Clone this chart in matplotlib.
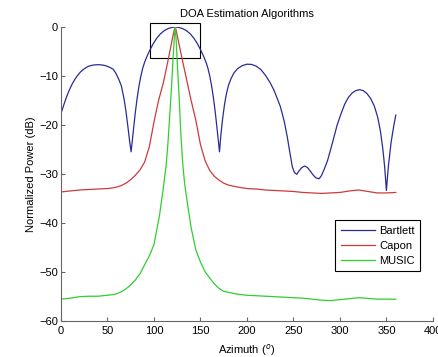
import matplotlib
matplotlib.use('Agg')
import matplotlib.pyplot as plt
from matplotlib.patches import Rectangle

plt.rcParams['font.family'] = ['Liberation Sans', 'DejaVu Sans']
plt.rcParams['font.size'] = 8

# Bartlett spectrum (dB) vs azimuth (deg)
bart_az = [0, 3, 6, 9, 12, 15, 18, 21, 24, 27, 30, 33, 36, 40, 44, 48, 52, 56, 59, 62, 65, 68,
           70, 72, 74, 75.5,
           78, 80, 82, 84, 86, 88, 90, 93, 96, 99, 103, 107, 111, 115, 119, 123,
           127, 131, 135, 139, 143, 147, 150, 153, 156, 158, 160, 162, 164, 166, 168, 170.5,
           172, 174, 176, 178, 180, 183, 186, 190, 195, 200, 205, 210, 215, 220, 225, 229, 233,
           236, 240, 243.4, 246, 248.8, 251, 253.5, 256, 259, 262, 265, 268, 271, 274, 277.6,
           280, 283, 286.6, 290, 293.8, 297, 301, 305, 309, 313, 317, 321, 325, 329, 333, 337,
           340.5, 343.5, 346, 348, 349.9, 352, 355, 358, 360]
bart_db = [-17.7, -16.0, -14.3, -12.9, -11.7, -10.7, -9.9, -9.2, -8.7, -8.3, -8.0, -7.85, -7.75,
           -7.7, -7.75, -7.9, -8.2, -8.6, -9.4, -10.6, -12.0, -14.8, -17.3, -20.3, -23.5, -25.5,
           -21.0, -17.5, -14.5, -12.0, -10.0, -8.4, -7.2, -5.8, -4.6, -3.5, -2.3, -1.4, -0.75,
           -0.35, -0.1, 0.0,
           -0.1, -0.35, -0.75, -1.4, -2.3, -3.5, -4.6, -5.8, -7.2, -8.4, -10.0, -12.0, -14.5,
           -17.5, -21.0, -25.5,
           -22.0, -18.5, -15.7, -13.6, -12.0, -10.5, -9.4, -8.5, -7.9, -7.6, -7.65, -8.0, -8.7,
           -9.9, -11.4, -12.9, -14.8, -16.3, -19.2, -22.5, -25.5, -28.6, -29.7, -30.1, -29.4,
           -28.7, -28.4, -28.7, -29.4, -30.2, -30.8, -31.0, -30.4, -29.1, -27.3, -25.0, -22.3,
           -20.0, -17.8, -15.8, -14.4, -13.5, -13.0, -12.8, -13.0, -13.6, -14.6, -16.2, -18.4,
           -21.3, -24.8, -28.5, -33.4, -28.5, -23.5, -20.0, -18.0]

# Capon spectrum
capon_az = [0, 10, 20, 30, 40, 50, 55, 60, 65, 70, 75, 80, 85, 90, 95, 100, 105, 110, 115,
            118, 120, 122, 123, 124, 126, 128, 132, 136, 140, 145, 150, 155, 160, 165, 170,
            175, 180, 190, 200, 210, 220, 230, 240, 250, 260, 270, 280, 290, 300, 310, 320,
            330, 340, 350, 360]
capon_db = [-33.7, -33.5, -33.3, -33.2, -33.1, -33.0, -32.9, -32.7, -32.4, -31.9, -31.2, -30.3,
            -29.2, -27.6, -24.5, -19.5, -15.0, -11.5, -7.0, -4.2, -2.2, -0.5, 0.0, -0.8, -2.6,
            -4.4, -8.0, -11.5, -15.0, -19.0, -24.0, -27.3, -29.3, -30.5, -31.3, -31.9, -32.3,
            -32.7, -33.0, -33.1, -33.3, -33.4, -33.5, -33.6, -33.8, -33.9, -34.0, -33.9, -33.8,
            -33.5, -33.3, -33.6, -33.9, -33.9, -33.8]

# MUSIC spectrum
music_az = [0, 10, 20, 30, 40, 50, 55, 60, 65, 70, 75, 80, 85, 90, 95, 100, 103, 106, 110,
            113, 115, 117, 119, 121, 122, 123, 124, 125, 127, 129, 131, 133, 136, 140, 145,
            150, 155, 160, 165, 170, 175, 180, 190, 200, 220, 240, 260, 280, 290, 300, 320,
            340, 360]
music_db = [-55.6, -55.4, -55.1, -55.0, -55.0, -54.8, -54.7, -54.5, -54.1, -53.5, -52.7, -51.7,
            -50.4, -48.6, -46.8, -44.5, -41.5, -38.5, -33.0, -28.5, -24.0, -18.0, -12.0, -5.0,
            -2.0, 0.0, -3.0, -7.0, -14.0, -22.0, -28.0, -32.0, -36.0, -41.0, -45.5, -48.0,
            -50.0, -51.3, -52.5, -53.4, -54.0, -54.2, -54.6, -54.8, -55.0, -55.2, -55.4, -55.8,
            -55.9, -55.7, -55.3, -55.6, -55.6]

fig = plt.figure(figsize=(4.38, 3.57), dpi=100)
ax = fig.add_axes([0.139, 0.1017, 0.8496, 0.8227])

ax.plot(bart_az, bart_db, color='#2b2b95', lw=0.9, label='Bartlett')
ax.plot(capon_az, capon_db, color='#cc3b3b', lw=0.9, label='Capon')
ax.plot(music_az, music_db, color='#2fcf2f', lw=0.9, label='MUSIC')

ax.add_patch(Rectangle((96, -6.4), 54, 7.2, fill=False, ec='black', lw=0.8, clip_on=False))

ax.set_xlim(0, 400)
ax.set_ylim(-60, 0)
ax.set_xticks(range(0, 401, 50))
ax.set_yticks(range(-60, 1, 10))
for side in ['top', 'right']:
    ax.spines[side].set_visible(False)
for side in ['left', 'bottom']:
    ax.spines[side].set_color('#666666')
ax.tick_params(direction='in', length=3, color='#666666')
ax.tick_params(axis='x', pad=4)
ax.tick_params(axis='y', pad=2)

ax.set_title('DOA Estimation Algorithms', fontsize=8, pad=7)
ax.set_xlabel('Azimuth ($^o$)', labelpad=4)
ax.set_ylabel('Normalized Power (dB)', labelpad=2)

leg = ax.legend(loc='upper right', bbox_to_anchor=(0.966, 0.342), borderaxespad=0,
                fancybox=False, framealpha=1, edgecolor='black', handlelength=3.1,
                borderpad=0.5, labelspacing=0.45, handletextpad=0.35)
leg.get_frame().set_linewidth(0.8)

fig.savefig('out.png')
